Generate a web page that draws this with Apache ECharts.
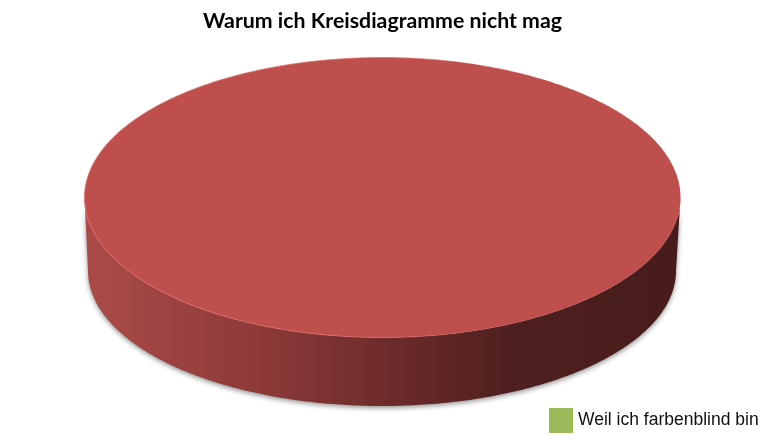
<!DOCTYPE html>
<html>
<head>
<meta charset="utf-8">
<style>html,body{margin:0;padding:0;background:#fff}#c{width:768px;height:440px}</style>
<script src="https://cdn.jsdelivr.net/npm/echarts@6/dist/echarts.min.js"></script>
</head>
<body>
<div id="c"></div>
<script>
var titleText = 'Warum ich Kreisdiagramme nicht mag';
var categories = ['Weil ich farbenblind bin'];
var values = [100];
var sliceColor = '#BE4F4D';
var legendColor = '#9BBB59';

var topDisc = {cx: 382.5, cy: 197.5, rx: 298, ry: 140};
var baseDisc = {cx: 382, cy: 271, rx: 294, ry: 135};

function ring(d, a0, a1, n) {
  var pts = [];
  for (var i = 0; i <= n; i++) {
    var a = a0 + (a1 - a0) * i / n;
    pts.push([d.cx + d.rx * Math.cos(a), d.cy + d.ry * Math.sin(a)]);
  }
  return pts;
}

function renderItem(params, api) {
  var total = values.reduce(function (s, v) { return s + v; }, 0);
  var sweep = api.value(0) / total * Math.PI * 2;
  var side = ring(baseDisc, 0, Math.min(sweep, Math.PI), 240)
    .concat(ring(topDisc, Math.min(sweep, Math.PI), 0, 240));
  return {
    type: 'group',
    children: [
      {
        type: 'polygon',
        shape: {points: side},
        style: {
          fill: new echarts.graphic.LinearGradient(0, 0, 1, 0, [
            {offset: 0, color: '#AB4B49'},
            {offset: 0.3, color: '#8C3A38'},
            {offset: 0.5, color: '#6E2C2B'},
            {offset: 0.72, color: '#4E1F1F'},
            {offset: 1, color: '#481C1C'}
          ]),
          shadowColor: 'rgba(60,60,60,0.55)',
          shadowBlur: 5,
          shadowOffsetX: 0,
          shadowOffsetY: 2
        }
      },
      {
        type: 'polygon',
        shape: {points: ring(topDisc, 0, sweep, 480)},
        style: {
          fill: sliceColor,
          lineWidth: 1,
          stroke: new echarts.graphic.LinearGradient(0, 0, 1, 0, [
            {offset: 0, color: 'rgba(226,110,104,0.9)'},
            {offset: 0.55, color: 'rgba(226,110,104,0.6)'},
            {offset: 0.8, color: 'rgba(192,80,77,0)'}
          ])
        }
      }
    ]
  };
}

var chart = echarts.init(document.getElementById('c'), null, {renderer: 'canvas'});
chart.setOption({
  animation: false,
  backgroundColor: '#fff',
  title: {
    text: titleText,
    left: 198,
    top: 6,
    textStyle: {fontFamily: 'Lato', fontWeight: 'bold', fontSize: 21.3, color: '#000'}
  },
  legend: {
    data: [{name: categories[0], itemStyle: {color: legendColor}, icon: 'rect'}],
    left: 544,
    top: 403,
    itemWidth: 24,
    itemHeight: 25,
    itemGap: 0,
    textStyle: {fontFamily: 'Liberation Sans', fontSize: 17.5, color: '#111'},
    selectedMode: false
  },
  series: [{
    type: 'custom',
    name: categories[0],
    coordinateSystem: 'none',
    renderItem: renderItem,
    itemStyle: {color: legendColor},
    data: values,
    silent: true
  }]
});
</script>
</body>
</html>
